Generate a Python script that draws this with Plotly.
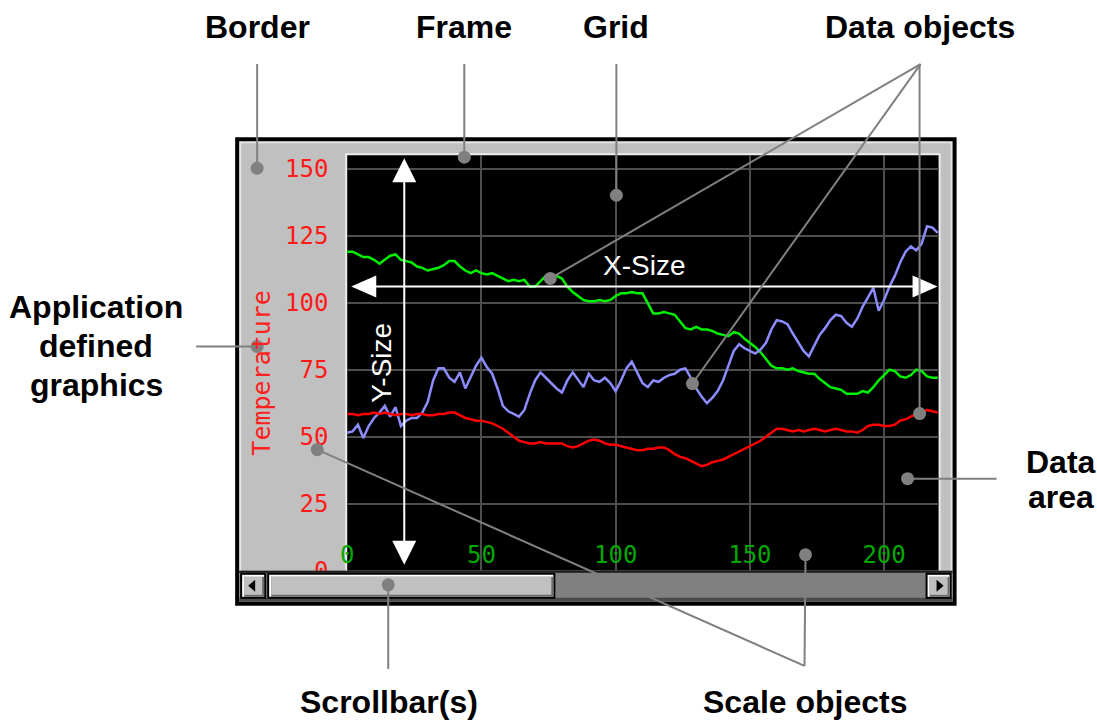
import plotly.graph_objects as go

W, H = 1097, 735

# ---------------- data ----------------
x_vals = list(range(0, 222, 2))  # sample positions 0..220

green_vals = [119, 119, 118, 117, 117, 116, 114.5, 116, 117.5, 118, 116, 115.5, 115, 113.5, 113, 112,
              112.5, 113, 114, 115.5, 115.5, 113.5, 112, 111, 112, 111, 110.5, 111, 110, 109, 108,
              108.5, 108, 108.5, 106, 106, 108, 110, 110.5, 110, 109, 106, 104, 102.5, 101, 100.5,
              100.5, 101, 100.5, 101, 102.5, 103.5, 103.5, 104, 103.5, 103.5, 99.5, 96, 96, 96.5, 96,
              95.5, 93, 90.5, 90, 91, 90, 90, 89.5, 88.5, 88, 87.5, 89, 88.5, 86.5, 85, 83.5, 81.5,
              79, 76.5, 75.5, 75.5, 75, 75.5, 74.5, 74, 73.5, 73.5, 71.5, 70, 68.5, 68, 67.5, 66, 66,
              66, 67, 66.5, 68.5, 71, 73, 75, 74.5, 72.5, 72, 73, 75, 74.5, 72.5, 72, 72]

red_vals = [58.5, 58.5, 58, 58.5, 58.5, 59, 58.5, 59, 58.5, 58, 58.5, 58.5, 58, 58.5, 58.5, 58, 58,
            58.5, 58.5, 59, 59, 58, 57, 56.5, 56, 56, 55.5, 55, 54, 53, 51.5, 50, 48.5, 48, 47.5,
            47.5, 48, 47.5, 47.5, 47.5, 47.5, 46.5, 46, 46.5, 47.5, 48.5, 49, 48.5, 47.5, 47, 47,
            46.5, 46, 45.5, 45, 45, 45.5, 45.5, 46, 46, 45, 43.5, 42.5, 42, 41, 40, 39, 39.5, 40.5,
            41, 41.5, 42.5, 43.5, 44.5, 45.5, 46.5, 47.5, 48.5, 50, 51.5, 53, 53, 52.5, 52, 52.5, 52,
            52.5, 53, 52.5, 52, 52.5, 53, 52.5, 52, 52, 51.5, 52.5, 54, 54.5, 54.5, 54, 54, 54.5,
            56, 56.5, 57.5, 58.5, 59, 60, 59.5, 59]

blue_vals = [51.5, 52, 54.5, 49.5, 54, 57, 59, 61.5, 57.5, 61, 54, 56, 57, 57, 59, 63, 71, 75.5,
             75.5, 72, 70.5, 74, 68, 72, 76.5, 79.5, 76, 73.5, 68, 61.5, 59.5, 58.5, 57.5, 60, 66,
             71, 74, 72, 70, 68, 66.5, 71, 74, 71, 68.5, 73.5, 71, 70.5, 72, 70, 67, 71, 75.5, 78,
             74, 70, 68.5, 71, 70.5, 72, 73, 73.5, 75, 75.5, 72, 68, 65, 62.5, 64.5, 67, 71, 76.5,
             82, 84.5, 83, 82, 81, 82.5, 85, 90, 93.5, 93, 92, 88.5, 85, 82, 80, 84, 88, 90.5, 93.5,
             95.5, 95, 92.5, 91, 94, 98.5, 102, 105.5, 97, 101, 106, 110, 115, 119, 121, 119.5, 122,
             128.5, 128, 126]

x_ticks = [0, 50, 100, 150, 200]
y_ticks = [0, 25, 50, 75, 100, 125, 150]
y_title = "Temperature"

# ---------------- helpers (target pixel -> paper) ----------------
def PX(x):
    return (x - 8) / (0.993 * W)

def PY(y):
    return 1 - y / 720.0

shapes = []

def rect(x0, y0, x1, y1, fill, layer="above"):
    shapes.append(dict(type="rect", xref="paper", yref="paper",
                       x0=PX(x0), x1=PX(x1), y0=PY(y1), y1=PY(y0),
                       fillcolor=fill, line=dict(width=0), layer=layer))

def line(x0, y0, x1, y1, color="#808080", width=2):
    shapes.append(dict(type="line", xref="paper", yref="paper",
                       x0=PX(x0), x1=PX(x1), y0=PY(y0), y1=PY(y1),
                       line=dict(color=color, width=width), layer="above"))

def dot(x, y, r=6.5, color="#808080"):
    shapes.append(dict(type="circle", xref="paper", yref="paper",
                       x0=PX(x - r), x1=PX(x + r), y0=PY(y + r), y1=PY(y - r),
                       fillcolor=color, line=dict(width=0), layer="above"))

def tri(pts, color):
    p = "M " + " L ".join(f"{PX(a):.5f},{PY(b):.5f}" for a, b in pts) + " Z"
    shapes.append(dict(type="path", xref="paper", yref="paper", path=p,
                       fillcolor=color, line=dict(width=0), layer="above"))

def bevel(x0, y0, x1, y1):
    rect(x0 - 2, y0 - 2, x1 + 2, y1 + 2, "#000000")
    rect(x0, y0, x1, y1, "#FFFFFF")
    rect(x0 + 2, y0 + 2, x1, y1, "#6A6A6A")
    rect(x0 + 2, y0 + 2, x1 - 2, y1 - 2, "#C0C0C0")

# widget body (below data)
rect(236, 137, 957, 605, "#000000", "below")
rect(240, 141, 953, 601, "#E6E6E6", "below")
rect(242, 143, 951, 599, "#C0C0C0", "below")
rect(346, 153, 941, 571, "#EEEEEE", "below")
rect(348, 155, 939, 570, "#000000", "below")

# scrollbar
rect(240, 570, 953, 601, "#808080")
rect(240, 570, 953, 572, "#1A1A1A")
rect(240, 597, 953, 601, "#4A4A4A")
bevel(243, 574, 265, 596)
tri([(249, 585), (256, 579), (256, 591)], "#000000")
bevel(270, 574, 554, 596)
bevel(928, 574, 950, 596)
tri([(944, 585), (937, 579), (937, 591)], "#000000")

# Y-Size / X-Size arrows
line(405, 178, 405, 544, "#FFFFFF", 2)
tri([(405, 158), (393, 182), (417, 182)], "#FFFFFF")
tri([(405, 564), (393, 540), (417, 540)], "#FFFFFF")
line(372, 286, 918, 286, "#FFFFFF", 2)
tri([(352, 286), (377, 275), (377, 297)], "#FFFFFF")
tri([(938, 286), (913, 275), (913, 297)], "#FFFFFF")

# leader lines
line(258, 64, 258, 168)
line(465, 64, 465, 157)
line(617, 64, 617, 195)
line(921, 64, 551, 278)
line(921, 64, 693, 383)
line(920, 64, 920, 413)
line(197, 346, 258, 346)
line(997, 478, 908, 478)
line(389, 584, 389, 668)
line(318, 449, 805, 665)
line(806, 554, 805, 665)
for (a, b) in [(258, 168), (465, 157), (617, 195), (551, 278), (693, 383), (920, 413),
               (258, 346), (908, 478), (389, 584), (318, 449), (806, 554)]:
    dot(a, b)

# ---------------- annotations ----------------
annotations = []

def label(text, x, y, size=32, color="#000000", bold=True, family="Liberation Sans, Arial", angle=0):
    annotations.append(dict(text=f"<b>{text}</b>" if bold else text,
                            x=PX(x), y=PY(y), xref="paper", yref="paper",
                            xanchor="center", yanchor="middle", showarrow=False,
                            textangle=angle, font=dict(size=size, color=color, family=family)))

label("Border", 258, 27)
label("Frame", 465, 27)
label("Grid", 617, 27)
label("Data objects", 920, 27)
label("Application", 97, 307)
label("defined", 97, 346)
label("graphics", 97, 384)
label("Data", 1061, 461)
label("area", 1061, 496)
label("Scrollbar(s)", 390, 701)
label("Scale objects", 806, 701)
label("X-Size", 645, 265, size=28, color="#FFFFFF", bold=False)
label("Y-Size", 382, 362, size=28, color="#FFFFFF", bold=False, angle=-90)
label(y_title, 262, 372, size=25, color="#FF2020", bold=False,
      family="DejaVu Sans Mono, monospace", angle=-90)

# ---------------- figure ----------------
fig = go.Figure()
fig.add_trace(go.Scatter(x=x_vals, y=green_vals, mode="lines",
                         line=dict(color="#00F000", width=2.5),
                         showlegend=False, hoverinfo="skip"))
fig.add_trace(go.Scatter(x=x_vals, y=blue_vals, mode="lines",
                         line=dict(color="#8C8CFF", width=2.5),
                         showlegend=False, hoverinfo="skip"))
fig.add_trace(go.Scatter(x=x_vals, y=red_vals, mode="lines",
                         line=dict(color="#FF0000", width=2.5),
                         showlegend=False, hoverinfo="skip"))

mono = "DejaVu Sans Mono, monospace"
fig.update_layout(
    width=W, height=H, autosize=False,
    margin=dict(l=0, r=0, t=0, b=0),
    paper_bgcolor="#FFFFFF", plot_bgcolor="#000000",
    shapes=shapes, annotations=annotations,
    xaxis=dict(domain=[PX(348), PX(939)], range=[0, 220.3],
               tickvals=x_ticks, ticktext=[str(v) for v in x_ticks],
               ticklabelposition="inside", ticklabeloverflow="allow",
               tickfont=dict(family=mono, size=24, color="#00A800"),
               showgrid=True, gridcolor="#4E4E4E", gridwidth=2,
               zeroline=False, showline=False, ticks=""),
    yaxis=dict(domain=[PY(570), PY(155)], range=[0, 155],
               tickvals=y_ticks, ticktext=[str(v) for v in y_ticks],
               tickfont=dict(family=mono, size=24, color="#FF1A1A"),
               ticks="outside", ticklen=13, tickcolor="rgba(0,0,0,0)",
               showgrid=True, gridcolor="#4E4E4E", gridwidth=2,
               zeroline=False, showline=False),
)

fig.write_html("out.html", config={"displayModeBar": False},
               post_script="document.body.style.margin='0';document.body.style.overflow='hidden';")
